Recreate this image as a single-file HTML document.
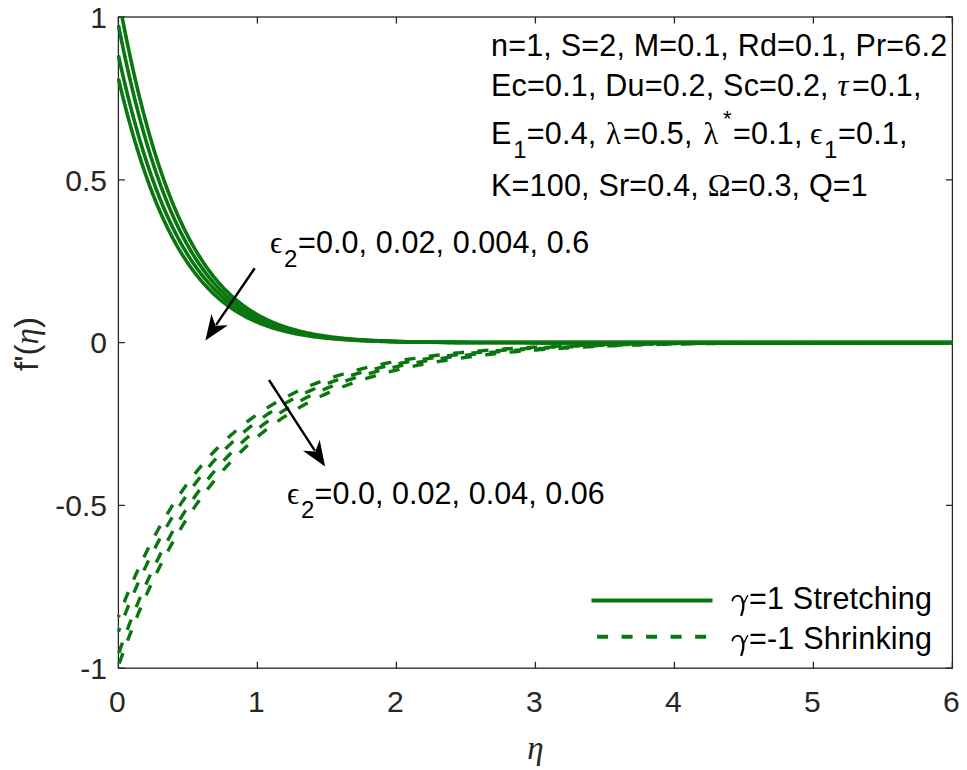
<!DOCTYPE html>
<html><head><meta charset="utf-8"><style>
html,body{margin:0;padding:0;background:#fff;overflow:hidden;width:967px;height:770px;}
svg{display:block;}
text{font-family:"Liberation Sans",sans-serif;}
.gi{font-family:"Liberation Serif",serif;font-style:italic;}
.gu{font-family:"Liberation Serif",serif;}
</style></head><body>
<svg width="967" height="770" viewBox="0 0 967 770">
<rect width="967" height="770" fill="#fff"/>
<defs><clipPath id="ax"><rect x="116.90" y="16.50" width="837.00" height="653.20"/></clipPath></defs>
<g stroke="#262626" stroke-width="1.3" fill="none">
<rect x="118.40" y="17.00" width="834.00" height="651.20"/>
<path d="M118.40,668.20V661.70M118.40,17.00V23.50M257.40,668.20V661.70M257.40,17.00V23.50M396.40,668.20V661.70M396.40,17.00V23.50M535.40,668.20V661.70M535.40,17.00V23.50M674.40,668.20V661.70M674.40,17.00V23.50M813.40,668.20V661.70M813.40,17.00V23.50M952.40,668.20V661.70M952.40,17.00V23.50M118.40,668.20H124.90M952.40,668.20H945.90M118.40,505.40H124.90M952.40,505.40H945.90M118.40,342.60H124.90M952.40,342.60H945.90M118.40,179.80H124.90M952.40,179.80H945.90M118.40,17.00H124.90M952.40,17.00H945.90"/>
</g>
<g clip-path="url(#ax)" fill="none" stroke="#0a760f" stroke-width="3.4">
<g stroke-width="3.6">
<path d="M118.40,-2.54 L118.42,-2.42 L118.47,-2.16 L118.54,-1.78 L118.63,-1.30 L118.73,-0.73 L118.85,-0.08 L118.99,0.66 L119.14,1.47 L119.30,2.35 L119.48,3.30 L119.67,4.32 L119.87,5.40 L120.09,6.54 L120.31,7.75 L120.55,9.01 L120.80,10.32 L121.06,11.69 L121.33,13.12 L121.61,14.59 L121.90,16.11 L122.21,17.68 L122.52,19.30 L122.84,20.96 L123.18,22.67 L123.52,24.42 L123.87,26.21 L124.24,28.04 L124.61,29.90 L124.99,31.81 L125.38,33.75 L125.78,35.72 L126.19,37.73 L126.61,39.77 L127.04,41.85 L127.47,43.95 L127.92,46.08 L128.37,48.24 L128.84,50.43 L129.31,52.65 L129.79,54.88 L130.28,57.15 L130.77,59.43 L131.28,61.74 L131.79,64.07 L132.31,66.42 L132.84,68.79 L133.38,71.18 L133.92,73.58 L134.48,76.00 L135.04,78.43 L135.61,80.88 L136.19,83.35 L136.77,85.82 L137.37,88.31 L137.97,90.81 L138.58,93.32 L139.19,95.83 L139.82,98.36 L140.45,100.89 L141.09,103.43 L141.73,105.98 L142.39,108.53 L143.05,111.09 L143.72,113.65 L144.39,116.21 L145.08,118.77 L145.77,121.34 L146.47,123.90 L147.17,126.47 L147.88,129.03 L148.60,131.60 L149.33,134.16 L150.06,136.72 L150.80,139.27 L151.55,141.82 L152.31,144.37 L153.07,146.91 L153.84,149.44 L154.61,151.97 L155.40,154.49 L156.19,157.00 L156.98,159.51 L157.79,162.00 L158.60,164.49 L159.41,166.96 L160.24,169.43 L161.07,171.88 L161.90,174.33 L162.75,176.76 L163.60,179.18 L164.46,181.58 L165.32,183.97 L166.19,186.35 L167.07,188.72 L167.95,191.07 L168.84,193.40 L169.74,195.72 L170.64,198.02 L171.55,200.31 L172.47,202.58 L173.39,204.84 L174.32,207.07 L175.25,209.29 L176.19,211.50 L177.14,213.68 L178.09,215.85 L179.06,217.99 L180.02,220.12 L181.00,222.23 L181.97,224.32 L182.96,226.39 L183.95,228.44 L184.95,230.47 L185.95,232.48 L186.97,234.47 L187.98,236.44 L189.00,238.39 L190.03,240.32 L191.07,242.22 L192.11,244.11 L193.16,245.97 L194.21,247.82 L195.27,249.64 L196.34,251.44 L197.41,253.22 L198.48,254.97 L199.57,256.71 L200.66,258.42 L201.75,260.11 L202.85,261.79 L203.96,263.43 L205.07,265.06 L206.19,266.66 L207.32,268.25 L208.45,269.81 L209.59,271.35 L210.73,272.86 L211.88,274.36 L213.03,275.83 L214.19,277.28 L215.36,278.71 L216.53,280.12 L217.71,281.51 L218.89,282.87 L220.08,284.22 L221.28,285.54 L222.48,286.84 L223.68,288.12 L224.90,289.38 L226.11,290.62 L227.34,291.84 L228.57,293.04 L229.80,294.21 L231.04,295.37 L232.29,296.51 L233.54,297.62 L234.80,298.72 L236.06,299.80 L237.33,300.85 L238.60,301.89 L239.88,302.91 L241.17,303.91 L242.46,304.89 L243.76,305.85 L245.06,306.79 L246.37,307.72 L247.68,308.63 L249.00,309.51 L250.32,310.39 L251.65,311.24 L252.99,312.07 L254.33,312.89 L255.68,313.69 L257.03,314.48 L258.39,315.25 L259.75,316.00 L261.12,316.73 L262.49,317.45 L263.87,318.16 L265.25,318.85 L266.64,319.52 L268.04,320.18 L269.44,320.82 L270.84,321.45 L272.25,322.06 L273.67,322.66 L275.09,323.25 L276.52,323.82 L277.95,324.38 L279.39,324.92 L280.83,325.45 L282.28,325.97 L283.73,326.48 L285.19,326.97 L286.66,327.45 L288.13,327.92 L289.60,328.38 L291.08,328.82 L292.57,329.25 L294.06,329.68 L295.55,330.09 L297.05,330.49 L298.56,330.88 L300.07,331.26 L301.59,331.63 L303.11,331.99 L304.64,332.34 L306.17,332.68 L307.71,333.01 L309.25,333.33 L310.80,333.64 L312.35,333.94 L313.91,334.24 L315.47,334.53 L317.04,334.80 L318.61,335.07 L320.19,335.34 L321.77,335.59 L323.36,335.84 L324.95,336.08 L326.55,336.31 L328.16,336.53 L329.77,336.75 L331.38,336.96 L333.00,337.17 L334.62,337.37 L336.25,337.56 L337.89,337.74 L339.52,337.92 L341.17,338.10 L342.82,338.27 L344.47,338.43 L346.13,338.59 L347.80,338.74 L349.46,338.89 L351.14,339.03 L352.82,339.17 L354.50,339.31 L356.19,339.43 L357.88,339.56 L359.58,339.68 L361.29,339.80 L363.00,339.91 L364.71,340.02 L366.43,340.12 L368.15,340.22 L369.88,340.32 L371.61,340.41 L373.35,340.50 L375.09,340.59 L376.84,340.67 L378.59,340.75 L380.35,340.83 L382.11,340.90 L383.88,340.98 L385.65,341.05 L387.43,341.11 L389.21,341.18 L391.00,341.24 L392.79,341.30 L394.59,341.35 L396.39,341.41 L398.20,341.46 L400.01,341.51 L401.82,341.56 L403.64,341.61 L405.47,341.65 L407.30,341.70 L409.13,341.74 L410.97,341.78 L412.82,341.81 L414.67,341.85 L416.52,341.89 L418.38,341.92 L420.24,341.95 L422.11,341.98 L423.99,342.01 L425.86,342.04 L427.75,342.07 L429.63,342.09 L431.53,342.12 L433.42,342.14 L435.32,342.16 L437.23,342.18 L439.14,342.20 L441.06,342.22 L442.98,342.24 L444.90,342.26 L446.83,342.28 L448.76,342.29 L450.70,342.31 L452.65,342.32 L454.60,342.34 L456.55,342.35 L458.51,342.36 L460.47,342.38 L462.44,342.39 L464.41,342.40 L466.38,342.41 L468.36,342.42 L470.35,342.43 L472.34,342.44 L474.33,342.45 L476.33,342.45 L478.34,342.46 L480.35,342.47 L482.36,342.48 L484.38,342.48 L486.40,342.49 L488.43,342.50 L490.46,342.50 L492.49,342.51 L494.53,342.51 L496.58,342.52 L498.63,342.52 L500.68,342.53 L502.74,342.53 L504.81,342.53 L506.87,342.54 L508.95,342.54 L511.02,342.55 L513.10,342.55 L515.19,342.55 L517.28,342.55 L519.38,342.56 L521.48,342.56 L523.58,342.56 L525.69,342.56 L527.80,342.57 L529.92,342.57 L532.04,342.57 L534.17,342.57 L536.30,342.57 L538.44,342.58 L540.58,342.58 L542.72,342.58 L544.87,342.58 L547.02,342.58 L549.18,342.58 L551.34,342.58 L553.51,342.58 L555.68,342.59 L557.86,342.59 L560.04,342.59 L562.22,342.59 L564.41,342.59 L566.61,342.59 L568.80,342.59 L571.01,342.59 L573.21,342.59 L575.42,342.59 L577.64,342.59 L579.86,342.59 L582.08,342.59 L584.31,342.59 L586.55,342.59 L588.78,342.59 L591.03,342.60 L593.27,342.60 L595.52,342.60 L597.78,342.60 L600.04,342.60 L602.30,342.60 L604.57,342.60 L606.84,342.60 L609.12,342.60 L611.40,342.60 L613.69,342.60 L615.98,342.60 L618.27,342.60 L620.57,342.60 L622.88,342.60 L625.18,342.60 L627.49,342.60 L629.81,342.60 L632.13,342.60 L634.46,342.60 L636.79,342.60 L639.12,342.60 L641.46,342.60 L643.80,342.60 L646.15,342.60 L648.50,342.60 L650.85,342.60 L653.21,342.60 L655.57,342.60 L657.94,342.60 L660.31,342.60 L662.69,342.60 L665.07,342.60 L667.46,342.60 L669.85,342.60 L672.24,342.60 L674.64,342.60 L677.04,342.60 L679.45,342.60 L681.86,342.60 L684.27,342.60 L686.69,342.60 L689.11,342.60 L691.54,342.60 L693.97,342.60 L696.41,342.60 L698.85,342.60 L701.30,342.60 L703.74,342.60 L706.20,342.60 L708.65,342.60 L711.12,342.60 L713.58,342.60 L716.05,342.60 L718.53,342.60 L721.00,342.60 L723.49,342.60 L725.97,342.60 L728.46,342.60 L730.96,342.60 L733.46,342.60 L735.96,342.60 L738.47,342.60 L740.98,342.60 L743.50,342.60 L746.02,342.60 L748.54,342.60 L751.07,342.60 L753.60,342.60 L756.14,342.60 L758.68,342.60 L761.23,342.60 L763.78,342.60 L766.33,342.60 L768.89,342.60 L771.45,342.60 L774.02,342.60 L776.59,342.60 L779.16,342.60 L781.74,342.60 L784.32,342.60 L786.91,342.60 L789.50,342.60 L792.09,342.60 L794.69,342.60 L797.30,342.60 L799.90,342.60 L802.51,342.60 L805.13,342.60 L807.75,342.60 L810.37,342.60 L813.00,342.60 L815.63,342.60 L818.27,342.60 L820.91,342.60 L823.55,342.60 L826.20,342.60 L828.85,342.60 L831.51,342.60 L834.17,342.60 L836.84,342.60 L839.51,342.60 L842.18,342.60 L844.85,342.60 L847.54,342.60 L850.22,342.60 L852.91,342.60 L855.60,342.60 L858.30,342.60 L861.00,342.60 L863.71,342.60 L866.42,342.60 L869.13,342.60 L871.85,342.60 L874.57,342.60 L877.29,342.60 L880.02,342.60 L882.76,342.60 L885.49,342.60 L888.24,342.60 L890.98,342.60 L893.73,342.60 L896.49,342.60 L899.24,342.60 L902.00,342.60 L904.77,342.60 L907.54,342.60 L910.31,342.60 L913.09,342.60 L915.87,342.60 L918.66,342.60 L921.45,342.60 L924.24,342.60 L927.04,342.60 L929.84,342.60 L932.65,342.60 L935.46,342.60 L938.27,342.60 L941.09,342.60 L943.91,342.60 L946.74,342.60 L949.57,342.60 L952.40,342.60"/>
<path d="M118.40,25.14 L118.42,25.25 L118.47,25.49 L118.54,25.84 L118.63,26.29 L118.73,26.82 L118.85,27.42 L118.99,28.10 L119.14,28.86 L119.30,29.67 L119.48,30.56 L119.67,31.50 L119.87,32.50 L120.09,33.57 L120.31,34.68 L120.55,35.85 L120.80,37.07 L121.06,38.34 L121.33,39.67 L121.61,41.03 L121.90,42.45 L122.21,43.90 L122.52,45.40 L122.84,46.94 L123.18,48.53 L123.52,50.15 L123.87,51.81 L124.24,53.50 L124.61,55.23 L124.99,57.00 L125.38,58.80 L125.78,60.63 L126.19,62.49 L126.61,64.39 L127.04,66.31 L127.47,68.26 L127.92,70.23 L128.37,72.24 L128.84,74.26 L129.31,76.32 L129.79,78.39 L130.28,80.49 L130.77,82.60 L131.28,84.74 L131.79,86.90 L132.31,89.08 L132.84,91.27 L133.38,93.48 L133.92,95.70 L134.48,97.94 L135.04,100.20 L135.61,102.47 L136.19,104.75 L136.77,107.04 L137.37,109.34 L137.97,111.65 L138.58,113.97 L139.19,116.30 L139.82,118.64 L140.45,120.98 L141.09,123.33 L141.73,125.68 L142.39,128.04 L143.05,130.41 L143.72,132.77 L144.39,135.14 L145.08,137.51 L145.77,139.88 L146.47,142.25 L147.17,144.62 L147.88,146.99 L148.60,149.36 L149.33,151.72 L150.06,154.09 L150.80,156.45 L151.55,158.80 L152.31,161.15 L153.07,163.50 L153.84,165.83 L154.61,168.17 L155.40,170.49 L156.19,172.81 L156.98,175.12 L157.79,177.42 L158.60,179.72 L159.41,182.00 L160.24,184.27 L161.07,186.53 L161.90,188.79 L162.75,191.03 L163.60,193.26 L164.46,195.47 L165.32,197.68 L166.19,199.87 L167.07,202.04 L167.95,204.21 L168.84,206.36 L169.74,208.49 L170.64,210.61 L171.55,212.72 L172.47,214.81 L173.39,216.88 L174.32,218.94 L175.25,220.98 L176.19,223.01 L177.14,225.02 L178.09,227.01 L179.06,228.98 L180.02,230.94 L181.00,232.87 L181.97,234.79 L182.96,236.70 L183.95,238.58 L184.95,240.44 L185.95,242.29 L186.97,244.12 L187.98,245.92 L189.00,247.71 L190.03,249.48 L191.07,251.23 L192.11,252.96 L193.16,254.67 L194.21,256.36 L195.27,258.03 L196.34,259.68 L197.41,261.31 L198.48,262.92 L199.57,264.51 L200.66,266.08 L201.75,267.63 L202.85,269.16 L203.96,270.67 L205.07,272.16 L206.19,273.63 L207.32,275.08 L208.45,276.51 L209.59,277.91 L210.73,279.30 L211.88,280.67 L213.03,282.02 L214.19,283.34 L215.36,284.65 L216.53,285.94 L217.71,287.20 L218.89,288.45 L220.08,289.68 L221.28,290.89 L222.48,292.08 L223.68,293.25 L224.90,294.39 L226.11,295.53 L227.34,296.64 L228.57,297.73 L229.80,298.80 L231.04,299.86 L232.29,300.89 L233.54,301.91 L234.80,302.91 L236.06,303.89 L237.33,304.85 L238.60,305.80 L239.88,306.73 L241.17,307.64 L242.46,308.53 L243.76,309.40 L245.06,310.26 L246.37,311.10 L247.68,311.93 L249.00,312.73 L250.32,313.53 L251.65,314.30 L252.99,315.06 L254.33,315.80 L255.68,316.53 L257.03,317.24 L258.39,317.94 L259.75,318.62 L261.12,319.29 L262.49,319.94 L263.87,320.58 L265.25,321.21 L266.64,321.82 L268.04,322.41 L269.44,323.00 L270.84,323.57 L272.25,324.12 L273.67,324.66 L275.09,325.19 L276.52,325.71 L277.95,326.22 L279.39,326.71 L280.83,327.19 L282.28,327.66 L283.73,328.12 L285.19,328.56 L286.66,329.00 L288.13,329.42 L289.60,329.83 L291.08,330.24 L292.57,330.63 L294.06,331.01 L295.55,331.38 L297.05,331.74 L298.56,332.09 L300.07,332.44 L301.59,332.77 L303.11,333.09 L304.64,333.41 L306.17,333.72 L307.71,334.01 L309.25,334.30 L310.80,334.58 L312.35,334.86 L313.91,335.12 L315.47,335.38 L317.04,335.63 L318.61,335.87 L320.19,336.11 L321.77,336.34 L323.36,336.56 L324.95,336.77 L326.55,336.98 L328.16,337.19 L329.77,337.38 L331.38,337.57 L333.00,337.76 L334.62,337.93 L336.25,338.11 L337.89,338.27 L339.52,338.43 L341.17,338.59 L342.82,338.74 L344.47,338.89 L346.13,339.03 L347.80,339.17 L349.46,339.30 L351.14,339.43 L352.82,339.55 L354.50,339.67 L356.19,339.79 L357.88,339.90 L359.58,340.00 L361.29,340.11 L363.00,340.21 L364.71,340.31 L366.43,340.40 L368.15,340.49 L369.88,340.58 L371.61,340.66 L373.35,340.74 L375.09,340.82 L376.84,340.89 L378.59,340.96 L380.35,341.03 L382.11,341.10 L383.88,341.16 L385.65,341.22 L387.43,341.28 L389.21,341.34 L391.00,341.40 L392.79,341.45 L394.59,341.50 L396.39,341.55 L398.20,341.59 L400.01,341.64 L401.82,341.68 L403.64,341.72 L405.47,341.76 L407.30,341.80 L409.13,341.84 L410.97,341.87 L412.82,341.91 L414.67,341.94 L416.52,341.97 L418.38,342.00 L420.24,342.03 L422.11,342.06 L423.99,342.08 L425.86,342.11 L427.75,342.13 L429.63,342.15 L431.53,342.17 L433.42,342.19 L435.32,342.21 L437.23,342.23 L439.14,342.25 L441.06,342.27 L442.98,342.29 L444.90,342.30 L446.83,342.32 L448.76,342.33 L450.70,342.34 L452.65,342.36 L454.60,342.37 L456.55,342.38 L458.51,342.39 L460.47,342.40 L462.44,342.41 L464.41,342.42 L466.38,342.43 L468.36,342.44 L470.35,342.45 L472.34,342.46 L474.33,342.47 L476.33,342.47 L478.34,342.48 L480.35,342.49 L482.36,342.49 L484.38,342.50 L486.40,342.50 L488.43,342.51 L490.46,342.51 L492.49,342.52 L494.53,342.52 L496.58,342.53 L498.63,342.53 L500.68,342.54 L502.74,342.54 L504.81,342.54 L506.87,342.55 L508.95,342.55 L511.02,342.55 L513.10,342.56 L515.19,342.56 L517.28,342.56 L519.38,342.56 L521.48,342.57 L523.58,342.57 L525.69,342.57 L527.80,342.57 L529.92,342.57 L532.04,342.57 L534.17,342.58 L536.30,342.58 L538.44,342.58 L540.58,342.58 L542.72,342.58 L544.87,342.58 L547.02,342.58 L549.18,342.58 L551.34,342.59 L553.51,342.59 L555.68,342.59 L557.86,342.59 L560.04,342.59 L562.22,342.59 L564.41,342.59 L566.61,342.59 L568.80,342.59 L571.01,342.59 L573.21,342.59 L575.42,342.59 L577.64,342.59 L579.86,342.59 L582.08,342.59 L584.31,342.59 L586.55,342.60 L588.78,342.60 L591.03,342.60 L593.27,342.60 L595.52,342.60 L597.78,342.60 L600.04,342.60 L602.30,342.60 L604.57,342.60 L606.84,342.60 L609.12,342.60 L611.40,342.60 L613.69,342.60 L615.98,342.60 L618.27,342.60 L620.57,342.60 L622.88,342.60 L625.18,342.60 L627.49,342.60 L629.81,342.60 L632.13,342.60 L634.46,342.60 L636.79,342.60 L639.12,342.60 L641.46,342.60 L643.80,342.60 L646.15,342.60 L648.50,342.60 L650.85,342.60 L653.21,342.60 L655.57,342.60 L657.94,342.60 L660.31,342.60 L662.69,342.60 L665.07,342.60 L667.46,342.60 L669.85,342.60 L672.24,342.60 L674.64,342.60 L677.04,342.60 L679.45,342.60 L681.86,342.60 L684.27,342.60 L686.69,342.60 L689.11,342.60 L691.54,342.60 L693.97,342.60 L696.41,342.60 L698.85,342.60 L701.30,342.60 L703.74,342.60 L706.20,342.60 L708.65,342.60 L711.12,342.60 L713.58,342.60 L716.05,342.60 L718.53,342.60 L721.00,342.60 L723.49,342.60 L725.97,342.60 L728.46,342.60 L730.96,342.60 L733.46,342.60 L735.96,342.60 L738.47,342.60 L740.98,342.60 L743.50,342.60 L746.02,342.60 L748.54,342.60 L751.07,342.60 L753.60,342.60 L756.14,342.60 L758.68,342.60 L761.23,342.60 L763.78,342.60 L766.33,342.60 L768.89,342.60 L771.45,342.60 L774.02,342.60 L776.59,342.60 L779.16,342.60 L781.74,342.60 L784.32,342.60 L786.91,342.60 L789.50,342.60 L792.09,342.60 L794.69,342.60 L797.30,342.60 L799.90,342.60 L802.51,342.60 L805.13,342.60 L807.75,342.60 L810.37,342.60 L813.00,342.60 L815.63,342.60 L818.27,342.60 L820.91,342.60 L823.55,342.60 L826.20,342.60 L828.85,342.60 L831.51,342.60 L834.17,342.60 L836.84,342.60 L839.51,342.60 L842.18,342.60 L844.85,342.60 L847.54,342.60 L850.22,342.60 L852.91,342.60 L855.60,342.60 L858.30,342.60 L861.00,342.60 L863.71,342.60 L866.42,342.60 L869.13,342.60 L871.85,342.60 L874.57,342.60 L877.29,342.60 L880.02,342.60 L882.76,342.60 L885.49,342.60 L888.24,342.60 L890.98,342.60 L893.73,342.60 L896.49,342.60 L899.24,342.60 L902.00,342.60 L904.77,342.60 L907.54,342.60 L910.31,342.60 L913.09,342.60 L915.87,342.60 L918.66,342.60 L921.45,342.60 L924.24,342.60 L927.04,342.60 L929.84,342.60 L932.65,342.60 L935.46,342.60 L938.27,342.60 L941.09,342.60 L943.91,342.60 L946.74,342.60 L949.57,342.60 L952.40,342.60"/>
<path d="M118.40,55.42 L118.42,55.52 L118.47,55.74 L118.54,56.06 L118.63,56.46 L118.73,56.94 L118.85,57.49 L118.99,58.10 L119.14,58.78 L119.30,59.52 L119.48,60.32 L119.67,61.17 L119.87,62.08 L120.09,63.04 L120.31,64.05 L120.55,65.11 L120.80,66.22 L121.06,67.37 L121.33,68.56 L121.61,69.80 L121.90,71.08 L122.21,72.39 L122.52,73.75 L122.84,75.15 L123.18,76.58 L123.52,78.04 L123.87,79.54 L124.24,81.08 L124.61,82.64 L124.99,84.24 L125.38,85.87 L125.78,87.53 L126.19,89.21 L126.61,90.92 L127.04,92.66 L127.47,94.42 L127.92,96.21 L128.37,98.02 L128.84,99.86 L129.31,101.71 L129.79,103.59 L130.28,105.49 L130.77,107.40 L131.28,109.34 L131.79,111.29 L132.31,113.26 L132.84,115.24 L133.38,117.24 L133.92,119.25 L134.48,121.28 L135.04,123.32 L135.61,125.37 L136.19,127.43 L136.77,129.51 L137.37,131.59 L137.97,133.68 L138.58,135.78 L139.19,137.89 L139.82,140.00 L140.45,142.12 L141.09,144.24 L141.73,146.37 L142.39,148.51 L143.05,150.65 L143.72,152.79 L144.39,154.93 L145.08,157.07 L145.77,159.22 L146.47,161.36 L147.17,163.50 L147.88,165.65 L148.60,167.79 L149.33,169.93 L150.06,172.07 L150.80,174.20 L151.55,176.33 L152.31,178.46 L153.07,180.58 L153.84,182.69 L154.61,184.80 L155.40,186.91 L156.19,189.01 L156.98,191.10 L157.79,193.18 L158.60,195.25 L159.41,197.32 L160.24,199.37 L161.07,201.42 L161.90,203.46 L162.75,205.48 L163.60,207.50 L164.46,209.51 L165.32,211.50 L166.19,213.48 L167.07,215.45 L167.95,217.41 L168.84,219.35 L169.74,221.28 L170.64,223.20 L171.55,225.11 L172.47,227.00 L173.39,228.87 L174.32,230.74 L175.25,232.58 L176.19,234.41 L177.14,236.23 L178.09,238.03 L179.06,239.82 L180.02,241.59 L181.00,243.34 L181.97,245.08 L182.96,246.80 L183.95,248.50 L184.95,250.19 L185.95,251.86 L186.97,253.51 L187.98,255.15 L189.00,256.76 L190.03,258.36 L191.07,259.95 L192.11,261.51 L193.16,263.06 L194.21,264.59 L195.27,266.10 L196.34,267.59 L197.41,269.07 L198.48,270.52 L199.57,271.96 L200.66,273.38 L201.75,274.78 L202.85,276.17 L203.96,277.53 L205.07,278.88 L206.19,280.21 L207.32,281.52 L208.45,282.81 L209.59,284.08 L210.73,285.34 L211.88,286.58 L213.03,287.79 L214.19,289.00 L215.36,290.18 L216.53,291.34 L217.71,292.49 L218.89,293.62 L220.08,294.73 L221.28,295.82 L222.48,296.90 L223.68,297.95 L224.90,298.99 L226.11,300.02 L227.34,301.02 L228.57,302.01 L229.80,302.98 L231.04,303.93 L232.29,304.87 L233.54,305.79 L234.80,306.70 L236.06,307.58 L237.33,308.45 L238.60,309.31 L239.88,310.15 L241.17,310.97 L242.46,311.78 L243.76,312.57 L245.06,313.35 L246.37,314.11 L247.68,314.85 L249.00,315.58 L250.32,316.30 L251.65,317.00 L252.99,317.69 L254.33,318.36 L255.68,319.02 L257.03,319.66 L258.39,320.29 L259.75,320.91 L261.12,321.52 L262.49,322.11 L263.87,322.68 L265.25,323.25 L266.64,323.80 L268.04,324.34 L269.44,324.87 L270.84,325.38 L272.25,325.88 L273.67,326.38 L275.09,326.85 L276.52,327.32 L277.95,327.78 L279.39,328.23 L280.83,328.66 L282.28,329.08 L283.73,329.50 L285.19,329.90 L286.66,330.30 L288.13,330.68 L289.60,331.05 L291.08,331.42 L292.57,331.77 L294.06,332.12 L295.55,332.45 L297.05,332.78 L298.56,333.10 L300.07,333.41 L301.59,333.71 L303.11,334.00 L304.64,334.29 L306.17,334.56 L307.71,334.83 L309.25,335.09 L310.80,335.35 L312.35,335.60 L313.91,335.84 L315.47,336.07 L317.04,336.30 L318.61,336.52 L320.19,336.73 L321.77,336.94 L323.36,337.14 L324.95,337.33 L326.55,337.52 L328.16,337.70 L329.77,337.88 L331.38,338.05 L333.00,338.22 L334.62,338.38 L336.25,338.53 L337.89,338.69 L339.52,338.83 L341.17,338.97 L342.82,339.11 L344.47,339.24 L346.13,339.37 L347.80,339.49 L349.46,339.61 L351.14,339.73 L352.82,339.84 L354.50,339.95 L356.19,340.05 L357.88,340.16 L359.58,340.25 L361.29,340.35 L363.00,340.44 L364.71,340.52 L366.43,340.61 L368.15,340.69 L369.88,340.77 L371.61,340.84 L373.35,340.92 L375.09,340.99 L376.84,341.05 L378.59,341.12 L380.35,341.18 L382.11,341.24 L383.88,341.30 L385.65,341.36 L387.43,341.41 L389.21,341.46 L391.00,341.51 L392.79,341.56 L394.59,341.60 L396.39,341.65 L398.20,341.69 L400.01,341.73 L401.82,341.77 L403.64,341.81 L405.47,341.84 L407.30,341.88 L409.13,341.91 L410.97,341.94 L412.82,341.97 L414.67,342.00 L416.52,342.03 L418.38,342.06 L420.24,342.08 L422.11,342.11 L423.99,342.13 L425.86,342.15 L427.75,342.17 L429.63,342.19 L431.53,342.21 L433.42,342.23 L435.32,342.25 L437.23,342.27 L439.14,342.28 L441.06,342.30 L442.98,342.32 L444.90,342.33 L446.83,342.34 L448.76,342.36 L450.70,342.37 L452.65,342.38 L454.60,342.39 L456.55,342.40 L458.51,342.41 L460.47,342.42 L462.44,342.43 L464.41,342.44 L466.38,342.45 L468.36,342.46 L470.35,342.46 L472.34,342.47 L474.33,342.48 L476.33,342.49 L478.34,342.49 L480.35,342.50 L482.36,342.50 L484.38,342.51 L486.40,342.51 L488.43,342.52 L490.46,342.52 L492.49,342.53 L494.53,342.53 L496.58,342.54 L498.63,342.54 L500.68,342.54 L502.74,342.55 L504.81,342.55 L506.87,342.55 L508.95,342.55 L511.02,342.56 L513.10,342.56 L515.19,342.56 L517.28,342.56 L519.38,342.57 L521.48,342.57 L523.58,342.57 L525.69,342.57 L527.80,342.57 L529.92,342.58 L532.04,342.58 L534.17,342.58 L536.30,342.58 L538.44,342.58 L540.58,342.58 L542.72,342.58 L544.87,342.58 L547.02,342.59 L549.18,342.59 L551.34,342.59 L553.51,342.59 L555.68,342.59 L557.86,342.59 L560.04,342.59 L562.22,342.59 L564.41,342.59 L566.61,342.59 L568.80,342.59 L571.01,342.59 L573.21,342.59 L575.42,342.59 L577.64,342.59 L579.86,342.59 L582.08,342.59 L584.31,342.60 L586.55,342.60 L588.78,342.60 L591.03,342.60 L593.27,342.60 L595.52,342.60 L597.78,342.60 L600.04,342.60 L602.30,342.60 L604.57,342.60 L606.84,342.60 L609.12,342.60 L611.40,342.60 L613.69,342.60 L615.98,342.60 L618.27,342.60 L620.57,342.60 L622.88,342.60 L625.18,342.60 L627.49,342.60 L629.81,342.60 L632.13,342.60 L634.46,342.60 L636.79,342.60 L639.12,342.60 L641.46,342.60 L643.80,342.60 L646.15,342.60 L648.50,342.60 L650.85,342.60 L653.21,342.60 L655.57,342.60 L657.94,342.60 L660.31,342.60 L662.69,342.60 L665.07,342.60 L667.46,342.60 L669.85,342.60 L672.24,342.60 L674.64,342.60 L677.04,342.60 L679.45,342.60 L681.86,342.60 L684.27,342.60 L686.69,342.60 L689.11,342.60 L691.54,342.60 L693.97,342.60 L696.41,342.60 L698.85,342.60 L701.30,342.60 L703.74,342.60 L706.20,342.60 L708.65,342.60 L711.12,342.60 L713.58,342.60 L716.05,342.60 L718.53,342.60 L721.00,342.60 L723.49,342.60 L725.97,342.60 L728.46,342.60 L730.96,342.60 L733.46,342.60 L735.96,342.60 L738.47,342.60 L740.98,342.60 L743.50,342.60 L746.02,342.60 L748.54,342.60 L751.07,342.60 L753.60,342.60 L756.14,342.60 L758.68,342.60 L761.23,342.60 L763.78,342.60 L766.33,342.60 L768.89,342.60 L771.45,342.60 L774.02,342.60 L776.59,342.60 L779.16,342.60 L781.74,342.60 L784.32,342.60 L786.91,342.60 L789.50,342.60 L792.09,342.60 L794.69,342.60 L797.30,342.60 L799.90,342.60 L802.51,342.60 L805.13,342.60 L807.75,342.60 L810.37,342.60 L813.00,342.60 L815.63,342.60 L818.27,342.60 L820.91,342.60 L823.55,342.60 L826.20,342.60 L828.85,342.60 L831.51,342.60 L834.17,342.60 L836.84,342.60 L839.51,342.60 L842.18,342.60 L844.85,342.60 L847.54,342.60 L850.22,342.60 L852.91,342.60 L855.60,342.60 L858.30,342.60 L861.00,342.60 L863.71,342.60 L866.42,342.60 L869.13,342.60 L871.85,342.60 L874.57,342.60 L877.29,342.60 L880.02,342.60 L882.76,342.60 L885.49,342.60 L888.24,342.60 L890.98,342.60 L893.73,342.60 L896.49,342.60 L899.24,342.60 L902.00,342.60 L904.77,342.60 L907.54,342.60 L910.31,342.60 L913.09,342.60 L915.87,342.60 L918.66,342.60 L921.45,342.60 L924.24,342.60 L927.04,342.60 L929.84,342.60 L932.65,342.60 L935.46,342.60 L938.27,342.60 L941.09,342.60 L943.91,342.60 L946.74,342.60 L949.57,342.60 L952.40,342.60"/>
<path d="M118.40,78.54 L118.42,78.63 L118.47,78.84 L118.54,79.13 L118.63,79.51 L118.73,79.95 L118.85,80.46 L118.99,81.04 L119.14,81.67 L119.30,82.36 L119.48,83.10 L119.67,83.90 L119.87,84.75 L120.09,85.64 L120.31,86.58 L120.55,87.57 L120.80,88.60 L121.06,89.67 L121.33,90.78 L121.61,91.93 L121.90,93.12 L122.21,94.35 L122.52,95.61 L122.84,96.91 L123.18,98.24 L123.52,99.61 L123.87,101.01 L124.24,102.43 L124.61,103.89 L124.99,105.38 L125.38,106.89 L125.78,108.43 L126.19,110.00 L126.61,111.59 L127.04,113.21 L127.47,114.85 L127.92,116.51 L128.37,118.20 L128.84,119.90 L129.31,121.63 L129.79,123.37 L130.28,125.13 L130.77,126.91 L131.28,128.71 L131.79,130.52 L132.31,132.35 L132.84,134.19 L133.38,136.05 L133.92,137.92 L134.48,139.80 L135.04,141.69 L135.61,143.60 L136.19,145.51 L136.77,147.44 L137.37,149.37 L137.97,151.31 L138.58,153.25 L139.19,155.21 L139.82,157.17 L140.45,159.13 L141.09,161.10 L141.73,163.08 L142.39,165.05 L143.05,167.03 L143.72,169.02 L144.39,171.00 L145.08,172.99 L145.77,174.97 L146.47,176.96 L147.17,178.94 L147.88,180.92 L148.60,182.91 L149.33,184.89 L150.06,186.86 L150.80,188.84 L151.55,190.81 L152.31,192.77 L153.07,194.73 L153.84,196.69 L154.61,198.64 L155.40,200.58 L156.19,202.52 L156.98,204.45 L157.79,206.37 L158.60,208.28 L159.41,210.19 L160.24,212.09 L161.07,213.98 L161.90,215.85 L162.75,217.72 L163.60,219.58 L164.46,221.43 L165.32,223.27 L166.19,225.09 L167.07,226.91 L167.95,228.71 L168.84,230.50 L169.74,232.28 L170.64,234.05 L171.55,235.80 L172.47,237.54 L173.39,239.26 L174.32,240.97 L175.25,242.67 L176.19,244.36 L177.14,246.03 L178.09,247.68 L179.06,249.32 L180.02,250.95 L181.00,252.56 L181.97,254.15 L182.96,255.73 L183.95,257.29 L184.95,258.84 L185.95,260.37 L186.97,261.89 L187.98,263.38 L189.00,264.87 L190.03,266.33 L191.07,267.78 L192.11,269.22 L193.16,270.63 L194.21,272.03 L195.27,273.41 L196.34,274.78 L197.41,276.13 L198.48,277.46 L199.57,278.78 L200.66,280.07 L201.75,281.36 L202.85,282.62 L203.96,283.87 L205.07,285.10 L206.19,286.31 L207.32,287.50 L208.45,288.68 L209.59,289.84 L210.73,290.99 L211.88,292.11 L213.03,293.23 L214.19,294.32 L215.36,295.40 L216.53,296.46 L217.71,297.50 L218.89,298.53 L220.08,299.54 L221.28,300.53 L222.48,301.51 L223.68,302.47 L224.90,303.41 L226.11,304.34 L227.34,305.26 L228.57,306.15 L229.80,307.03 L231.04,307.90 L232.29,308.75 L233.54,309.58 L234.80,310.40 L236.06,311.21 L237.33,312.00 L238.60,312.77 L239.88,313.53 L241.17,314.28 L242.46,315.01 L243.76,315.72 L245.06,316.43 L246.37,317.11 L247.68,317.79 L249.00,318.45 L250.32,319.09 L251.65,319.73 L252.99,320.35 L254.33,320.96 L255.68,321.55 L257.03,322.13 L258.39,322.70 L259.75,323.26 L261.12,323.80 L262.49,324.33 L263.87,324.85 L265.25,325.36 L266.64,325.86 L268.04,326.34 L269.44,326.82 L270.84,327.28 L272.25,327.73 L273.67,328.17 L275.09,328.60 L276.52,329.02 L277.95,329.43 L279.39,329.83 L280.83,330.22 L282.28,330.60 L283.73,330.98 L285.19,331.34 L286.66,331.69 L288.13,332.03 L289.60,332.37 L291.08,332.69 L292.57,333.01 L294.06,333.32 L295.55,333.62 L297.05,333.91 L298.56,334.20 L300.07,334.47 L301.59,334.74 L303.11,335.00 L304.64,335.26 L306.17,335.50 L307.71,335.74 L309.25,335.98 L310.80,336.20 L312.35,336.42 L313.91,336.64 L315.47,336.85 L317.04,337.05 L318.61,337.24 L320.19,337.43 L321.77,337.61 L323.36,337.79 L324.95,337.97 L326.55,338.13 L328.16,338.30 L329.77,338.45 L331.38,338.60 L333.00,338.75 L334.62,338.90 L336.25,339.03 L337.89,339.17 L339.52,339.30 L341.17,339.42 L342.82,339.54 L344.47,339.66 L346.13,339.77 L347.80,339.88 L349.46,339.99 L351.14,340.09 L352.82,340.19 L354.50,340.28 L356.19,340.38 L357.88,340.47 L359.58,340.55 L361.29,340.63 L363.00,340.71 L364.71,340.79 L366.43,340.86 L368.15,340.94 L369.88,341.00 L371.61,341.07 L373.35,341.13 L375.09,341.20 L376.84,341.26 L378.59,341.31 L380.35,341.37 L382.11,341.42 L383.88,341.47 L385.65,341.52 L387.43,341.57 L389.21,341.61 L391.00,341.66 L392.79,341.70 L394.59,341.74 L396.39,341.78 L398.20,341.81 L400.01,341.85 L401.82,341.88 L403.64,341.92 L405.47,341.95 L407.30,341.98 L409.13,342.01 L410.97,342.03 L412.82,342.06 L414.67,342.08 L416.52,342.11 L418.38,342.13 L420.24,342.15 L422.11,342.18 L423.99,342.20 L425.86,342.22 L427.75,342.23 L429.63,342.25 L431.53,342.27 L433.42,342.29 L435.32,342.30 L437.23,342.32 L439.14,342.33 L441.06,342.34 L442.98,342.36 L444.90,342.37 L446.83,342.38 L448.76,342.39 L450.70,342.40 L452.65,342.41 L454.60,342.42 L456.55,342.43 L458.51,342.44 L460.47,342.45 L462.44,342.46 L464.41,342.46 L466.38,342.47 L468.36,342.48 L470.35,342.48 L472.34,342.49 L474.33,342.50 L476.33,342.50 L478.34,342.51 L480.35,342.51 L482.36,342.52 L484.38,342.52 L486.40,342.53 L488.43,342.53 L490.46,342.53 L492.49,342.54 L494.53,342.54 L496.58,342.55 L498.63,342.55 L500.68,342.55 L502.74,342.55 L504.81,342.56 L506.87,342.56 L508.95,342.56 L511.02,342.56 L513.10,342.57 L515.19,342.57 L517.28,342.57 L519.38,342.57 L521.48,342.57 L523.58,342.57 L525.69,342.58 L527.80,342.58 L529.92,342.58 L532.04,342.58 L534.17,342.58 L536.30,342.58 L538.44,342.58 L540.58,342.58 L542.72,342.59 L544.87,342.59 L547.02,342.59 L549.18,342.59 L551.34,342.59 L553.51,342.59 L555.68,342.59 L557.86,342.59 L560.04,342.59 L562.22,342.59 L564.41,342.59 L566.61,342.59 L568.80,342.59 L571.01,342.59 L573.21,342.59 L575.42,342.59 L577.64,342.60 L579.86,342.60 L582.08,342.60 L584.31,342.60 L586.55,342.60 L588.78,342.60 L591.03,342.60 L593.27,342.60 L595.52,342.60 L597.78,342.60 L600.04,342.60 L602.30,342.60 L604.57,342.60 L606.84,342.60 L609.12,342.60 L611.40,342.60 L613.69,342.60 L615.98,342.60 L618.27,342.60 L620.57,342.60 L622.88,342.60 L625.18,342.60 L627.49,342.60 L629.81,342.60 L632.13,342.60 L634.46,342.60 L636.79,342.60 L639.12,342.60 L641.46,342.60 L643.80,342.60 L646.15,342.60 L648.50,342.60 L650.85,342.60 L653.21,342.60 L655.57,342.60 L657.94,342.60 L660.31,342.60 L662.69,342.60 L665.07,342.60 L667.46,342.60 L669.85,342.60 L672.24,342.60 L674.64,342.60 L677.04,342.60 L679.45,342.60 L681.86,342.60 L684.27,342.60 L686.69,342.60 L689.11,342.60 L691.54,342.60 L693.97,342.60 L696.41,342.60 L698.85,342.60 L701.30,342.60 L703.74,342.60 L706.20,342.60 L708.65,342.60 L711.12,342.60 L713.58,342.60 L716.05,342.60 L718.53,342.60 L721.00,342.60 L723.49,342.60 L725.97,342.60 L728.46,342.60 L730.96,342.60 L733.46,342.60 L735.96,342.60 L738.47,342.60 L740.98,342.60 L743.50,342.60 L746.02,342.60 L748.54,342.60 L751.07,342.60 L753.60,342.60 L756.14,342.60 L758.68,342.60 L761.23,342.60 L763.78,342.60 L766.33,342.60 L768.89,342.60 L771.45,342.60 L774.02,342.60 L776.59,342.60 L779.16,342.60 L781.74,342.60 L784.32,342.60 L786.91,342.60 L789.50,342.60 L792.09,342.60 L794.69,342.60 L797.30,342.60 L799.90,342.60 L802.51,342.60 L805.13,342.60 L807.75,342.60 L810.37,342.60 L813.00,342.60 L815.63,342.60 L818.27,342.60 L820.91,342.60 L823.55,342.60 L826.20,342.60 L828.85,342.60 L831.51,342.60 L834.17,342.60 L836.84,342.60 L839.51,342.60 L842.18,342.60 L844.85,342.60 L847.54,342.60 L850.22,342.60 L852.91,342.60 L855.60,342.60 L858.30,342.60 L861.00,342.60 L863.71,342.60 L866.42,342.60 L869.13,342.60 L871.85,342.60 L874.57,342.60 L877.29,342.60 L880.02,342.60 L882.76,342.60 L885.49,342.60 L888.24,342.60 L890.98,342.60 L893.73,342.60 L896.49,342.60 L899.24,342.60 L902.00,342.60 L904.77,342.60 L907.54,342.60 L910.31,342.60 L913.09,342.60 L915.87,342.60 L918.66,342.60 L921.45,342.60 L924.24,342.60 L927.04,342.60 L929.84,342.60 L932.65,342.60 L935.46,342.60 L938.27,342.60 L941.09,342.60 L943.91,342.60 L946.74,342.60 L949.57,342.60 L952.40,342.60"/>
</g>
<g stroke-dasharray="11 13.5">
<path stroke-dashoffset="8.6" d="M118.40,617.08 L118.42,617.02 L118.47,616.90 L118.54,616.71 L118.63,616.48 L118.73,616.20 L118.85,615.88 L118.99,615.53 L119.14,615.13 L119.30,614.70 L119.48,614.24 L119.67,613.74 L119.87,613.21 L120.09,612.65 L120.31,612.06 L120.55,611.44 L120.80,610.80 L121.06,610.12 L121.33,609.42 L121.61,608.70 L121.90,607.95 L122.21,607.17 L122.52,606.37 L122.84,605.55 L123.18,604.71 L123.52,603.84 L123.87,602.95 L124.24,602.04 L124.61,601.11 L124.99,600.16 L125.38,599.19 L125.78,598.20 L126.19,597.19 L126.61,596.16 L127.04,595.12 L127.47,594.06 L127.92,592.98 L128.37,591.88 L128.84,590.77 L129.31,589.65 L129.79,588.50 L130.28,587.35 L130.77,586.18 L131.28,584.99 L131.79,583.79 L132.31,582.58 L132.84,581.36 L133.38,580.12 L133.92,578.87 L134.48,577.61 L135.04,576.34 L135.61,575.06 L136.19,573.77 L136.77,572.47 L137.37,571.15 L137.97,569.83 L138.58,568.50 L139.19,567.16 L139.82,565.81 L140.45,564.45 L141.09,563.09 L141.73,561.72 L142.39,560.34 L143.05,558.95 L143.72,557.56 L144.39,556.16 L145.08,554.76 L145.77,553.35 L146.47,551.93 L147.17,550.51 L147.88,549.08 L148.60,547.65 L149.33,546.22 L150.06,544.78 L150.80,543.34 L151.55,541.90 L152.31,540.45 L153.07,539.00 L153.84,537.55 L154.61,536.09 L155.40,534.64 L156.19,533.18 L156.98,531.72 L157.79,530.26 L158.60,528.79 L159.41,527.33 L160.24,525.87 L161.07,524.41 L161.90,522.94 L162.75,521.48 L163.60,520.02 L164.46,518.55 L165.32,517.09 L166.19,515.63 L167.07,514.17 L167.95,512.72 L168.84,511.26 L169.74,509.81 L170.64,508.36 L171.55,506.91 L172.47,505.46 L173.39,504.02 L174.32,502.58 L175.25,501.14 L176.19,499.70 L177.14,498.27 L178.09,496.85 L179.06,495.42 L180.02,494.00 L181.00,492.59 L181.97,491.17 L182.96,489.77 L183.95,488.36 L184.95,486.97 L185.95,485.57 L186.97,484.19 L187.98,482.80 L189.00,481.43 L190.03,480.05 L191.07,478.69 L192.11,477.33 L193.16,475.97 L194.21,474.62 L195.27,473.28 L196.34,471.94 L197.41,470.61 L198.48,469.28 L199.57,467.97 L200.66,466.65 L201.75,465.35 L202.85,464.05 L203.96,462.76 L205.07,461.47 L206.19,460.20 L207.32,458.93 L208.45,457.66 L209.59,456.41 L210.73,455.16 L211.88,453.92 L213.03,452.68 L214.19,451.46 L215.36,450.24 L216.53,449.03 L217.71,447.82 L218.89,446.63 L220.08,445.44 L221.28,444.26 L222.48,443.09 L223.68,441.93 L224.90,440.77 L226.11,439.62 L227.34,438.48 L228.57,437.35 L229.80,436.23 L231.04,435.11 L232.29,434.01 L233.54,432.91 L234.80,431.82 L236.06,430.74 L237.33,429.66 L238.60,428.60 L239.88,427.54 L241.17,426.50 L242.46,425.46 L243.76,424.43 L245.06,423.40 L246.37,422.39 L247.68,421.38 L249.00,420.39 L250.32,419.40 L251.65,418.42 L252.99,417.45 L254.33,416.49 L255.68,415.53 L257.03,414.59 L258.39,413.65 L259.75,412.72 L261.12,411.80 L262.49,410.89 L263.87,409.99 L265.25,409.09 L266.64,408.21 L268.04,407.33 L269.44,406.46 L270.84,405.60 L272.25,404.74 L273.67,403.90 L275.09,403.07 L276.52,402.24 L277.95,401.42 L279.39,400.61 L280.83,399.81 L282.28,399.01 L283.73,398.22 L285.19,397.45 L286.66,396.68 L288.13,395.91 L289.60,395.16 L291.08,394.42 L292.57,393.68 L294.06,392.95 L295.55,392.23 L297.05,391.51 L298.56,390.81 L300.07,390.11 L301.59,389.42 L303.11,388.73 L304.64,388.06 L306.17,387.39 L307.71,386.73 L309.25,386.08 L310.80,385.43 L312.35,384.80 L313.91,384.17 L315.47,383.55 L317.04,382.93 L318.61,382.32 L320.19,381.72 L321.77,381.13 L323.36,380.54 L324.95,379.96 L326.55,379.39 L328.16,378.82 L329.77,378.27 L331.38,377.72 L333.00,377.17 L334.62,376.63 L336.25,376.10 L337.89,375.58 L339.52,375.06 L341.17,374.55 L342.82,374.04 L344.47,373.55 L346.13,373.05 L347.80,372.57 L349.46,372.09 L351.14,371.62 L352.82,371.15 L354.50,370.69 L356.19,370.24 L357.88,369.79 L359.58,369.34 L361.29,368.91 L363.00,368.48 L364.71,368.05 L366.43,367.63 L368.15,367.22 L369.88,366.81 L371.61,366.41 L373.35,366.02 L375.09,365.63 L376.84,365.24 L378.59,364.86 L380.35,364.49 L382.11,364.12 L383.88,363.75 L385.65,363.39 L387.43,363.04 L389.21,362.69 L391.00,362.35 L392.79,362.01 L394.59,361.67 L396.39,361.35 L398.20,361.02 L400.01,360.70 L401.82,360.39 L403.64,360.08 L405.47,359.77 L407.30,359.47 L409.13,359.18 L410.97,358.88 L412.82,358.60 L414.67,358.31 L416.52,358.03 L418.38,357.76 L420.24,357.49 L422.11,357.22 L423.99,356.96 L425.86,356.70 L427.75,356.45 L429.63,356.20 L431.53,355.95 L433.42,355.71 L435.32,355.47 L437.23,355.24 L439.14,355.01 L441.06,354.78 L442.98,354.55 L444.90,354.33 L446.83,354.11 L448.76,353.90 L450.70,353.68 L452.65,353.47 L454.60,353.26 L456.55,353.06 L458.51,352.86 L460.47,352.66 L462.44,352.46 L464.41,352.27 L466.38,352.08 L468.36,351.89 L470.35,351.71 L472.34,351.52 L474.33,351.34 L476.33,351.17 L478.34,350.99 L480.35,350.82 L482.36,350.65 L484.38,350.48 L486.40,350.32 L488.43,350.16 L490.46,350.00 L492.49,349.84 L494.53,349.69 L496.58,349.54 L498.63,349.39 L500.68,349.24 L502.74,349.10 L504.81,348.96 L506.87,348.82 L508.95,348.68 L511.02,348.55 L513.10,348.42 L515.19,348.29 L517.28,348.16 L519.38,348.03 L521.48,347.91 L523.58,347.79 L525.69,347.67 L527.80,347.55 L529.92,347.44 L532.04,347.32 L534.17,347.21 L536.30,347.11 L538.44,347.00 L540.58,346.89 L542.72,346.79 L544.87,346.69 L547.02,346.59 L549.18,346.50 L551.34,346.40 L553.51,346.31 L555.68,346.22 L557.86,346.13 L560.04,346.04 L562.22,345.95 L564.41,345.87 L566.61,345.79 L568.80,345.71 L571.01,345.63 L573.21,345.55 L575.42,345.48 L577.64,345.40 L579.86,345.33 L582.08,345.26 L584.31,345.19 L586.55,345.12 L588.78,345.05 L591.03,344.99 L593.27,344.92 L595.52,344.86 L597.78,344.80 L600.04,344.74 L602.30,344.68 L604.57,344.63 L606.84,344.57 L609.12,344.52 L611.40,344.46 L613.69,344.41 L615.98,344.36 L618.27,344.31 L620.57,344.26 L622.88,344.21 L625.18,344.17 L627.49,344.12 L629.81,344.08 L632.13,344.04 L634.46,344.00 L636.79,343.95 L639.12,343.91 L641.46,343.88 L643.80,343.84 L646.15,343.80 L648.50,343.77 L650.85,343.73 L653.21,343.70 L655.57,343.66 L657.94,343.63 L660.31,343.60 L662.69,343.57 L665.07,343.54 L667.46,343.51 L669.85,343.48 L672.24,343.45 L674.64,343.43 L677.04,343.40 L679.45,343.38 L681.86,343.35 L684.27,343.33 L686.69,343.30 L689.11,343.28 L691.54,343.26 L693.97,343.24 L696.41,343.22 L698.85,343.20 L701.30,343.18 L703.74,343.16 L706.20,343.14 L708.65,343.12 L711.12,343.10 L713.58,343.09 L716.05,343.07 L718.53,343.05 L721.00,343.04 L723.49,343.02 L725.97,343.01 L728.46,342.99 L730.96,342.98 L733.46,342.97 L735.96,342.95 L738.47,342.94 L740.98,342.93 L743.50,342.92 L746.02,342.91 L748.54,342.90 L751.07,342.89 L753.60,342.88 L756.14,342.87 L758.68,342.86 L761.23,342.85 L763.78,342.84 L766.33,342.83 L768.89,342.82 L771.45,342.81 L774.02,342.80 L776.59,342.80 L779.16,342.79 L781.74,342.78 L784.32,342.77 L786.91,342.77 L789.50,342.76 L792.09,342.76 L794.69,342.75 L797.30,342.74 L799.90,342.74 L802.51,342.73 L805.13,342.73 L807.75,342.72 L810.37,342.72 L813.00,342.71 L815.63,342.71 L818.27,342.70 L820.91,342.70 L823.55,342.70 L826.20,342.69 L828.85,342.69 L831.51,342.68 L834.17,342.68 L836.84,342.68 L839.51,342.67 L842.18,342.67 L844.85,342.67 L847.54,342.67 L850.22,342.66 L852.91,342.66 L855.60,342.66 L858.30,342.66 L861.00,342.65 L863.71,342.65 L866.42,342.65 L869.13,342.65 L871.85,342.64 L874.57,342.64 L877.29,342.64 L880.02,342.64 L882.76,342.64 L885.49,342.64 L888.24,342.63 L890.98,342.63 L893.73,342.63 L896.49,342.63 L899.24,342.63 L902.00,342.63 L904.77,342.63 L907.54,342.62 L910.31,342.62 L913.09,342.62 L915.87,342.62 L918.66,342.62 L921.45,342.62 L924.24,342.62 L927.04,342.62 L929.84,342.62 L932.65,342.62 L935.46,342.62 L938.27,342.61 L941.09,342.61 L943.91,342.61 L946.74,342.61 L949.57,342.61 L952.40,342.61"/>
<path stroke-dashoffset="7.0" d="M118.40,631.73 L118.42,631.67 L118.47,631.54 L118.54,631.36 L118.63,631.12 L118.73,630.84 L118.85,630.51 L118.99,630.15 L119.14,629.74 L119.30,629.30 L119.48,628.83 L119.67,628.32 L119.87,627.78 L120.09,627.21 L120.31,626.61 L120.55,625.98 L120.80,625.32 L121.06,624.63 L121.33,623.92 L121.61,623.18 L121.90,622.41 L122.21,621.62 L122.52,620.80 L122.84,619.96 L123.18,619.10 L123.52,618.21 L123.87,617.30 L124.24,616.37 L124.61,615.42 L124.99,614.45 L125.38,613.45 L125.78,612.44 L126.19,611.41 L126.61,610.36 L127.04,609.29 L127.47,608.21 L127.92,607.10 L128.37,605.98 L128.84,604.85 L129.31,603.69 L129.79,602.52 L130.28,601.34 L130.77,600.14 L131.28,598.93 L131.79,597.70 L132.31,596.46 L132.84,595.20 L133.38,593.94 L133.92,592.66 L134.48,591.37 L135.04,590.06 L135.61,588.75 L136.19,587.42 L136.77,586.08 L137.37,584.74 L137.97,583.38 L138.58,582.01 L139.19,580.64 L139.82,579.25 L140.45,577.86 L141.09,576.46 L141.73,575.05 L142.39,573.63 L143.05,572.20 L143.72,570.77 L144.39,569.33 L145.08,567.89 L145.77,566.44 L146.47,564.98 L147.17,563.52 L147.88,562.05 L148.60,560.58 L149.33,559.10 L150.06,557.62 L150.80,556.14 L151.55,554.65 L152.31,553.16 L153.07,551.66 L153.84,550.17 L154.61,548.66 L155.40,547.16 L156.19,545.66 L156.98,544.15 L157.79,542.64 L158.60,541.13 L159.41,539.62 L160.24,538.11 L161.07,536.60 L161.90,535.08 L162.75,533.57 L163.60,532.06 L164.46,530.54 L165.32,529.03 L166.19,527.52 L167.07,526.01 L167.95,524.50 L168.84,522.99 L169.74,521.49 L170.64,519.98 L171.55,518.48 L172.47,516.98 L173.39,515.48 L174.32,513.99 L175.25,512.50 L176.19,511.01 L177.14,509.52 L178.09,508.04 L179.06,506.56 L180.02,505.08 L181.00,503.61 L181.97,502.14 L182.96,500.68 L183.95,499.22 L184.95,497.76 L185.95,496.31 L186.97,494.87 L187.98,493.43 L189.00,491.99 L190.03,490.56 L191.07,489.13 L192.11,487.71 L193.16,486.30 L194.21,484.89 L195.27,483.49 L196.34,482.09 L197.41,480.70 L198.48,479.31 L199.57,477.94 L200.66,476.56 L201.75,475.20 L202.85,473.84 L203.96,472.49 L205.07,471.14 L206.19,469.80 L207.32,468.47 L208.45,467.15 L209.59,465.83 L210.73,464.52 L211.88,463.22 L213.03,461.92 L214.19,460.63 L215.36,459.35 L216.53,458.08 L217.71,456.82 L218.89,455.56 L220.08,454.31 L221.28,453.07 L222.48,451.83 L223.68,450.61 L224.90,449.39 L226.11,448.18 L227.34,446.98 L228.57,445.79 L229.80,444.60 L231.04,443.43 L232.29,442.26 L233.54,441.10 L234.80,439.95 L236.06,438.80 L237.33,437.67 L238.60,436.54 L239.88,435.42 L241.17,434.31 L242.46,433.21 L243.76,432.12 L245.06,431.04 L246.37,429.96 L247.68,428.90 L249.00,427.84 L250.32,426.79 L251.65,425.75 L252.99,424.72 L254.33,423.69 L255.68,422.68 L257.03,421.67 L258.39,420.68 L259.75,419.69 L261.12,418.71 L262.49,417.74 L263.87,416.77 L265.25,415.82 L266.64,414.87 L268.04,413.94 L269.44,413.01 L270.84,412.09 L272.25,411.18 L273.67,410.27 L275.09,409.38 L276.52,408.50 L277.95,407.62 L279.39,406.75 L280.83,405.89 L282.28,405.04 L283.73,404.20 L285.19,403.36 L286.66,402.53 L288.13,401.72 L289.60,400.91 L291.08,400.10 L292.57,399.31 L294.06,398.53 L295.55,397.75 L297.05,396.98 L298.56,396.22 L300.07,395.47 L301.59,394.72 L303.11,393.99 L304.64,393.26 L306.17,392.54 L307.71,391.82 L309.25,391.12 L310.80,390.42 L312.35,389.73 L313.91,389.05 L315.47,388.38 L317.04,387.71 L318.61,387.05 L320.19,386.40 L321.77,385.76 L323.36,385.12 L324.95,384.49 L326.55,383.87 L328.16,383.26 L329.77,382.65 L331.38,382.05 L333.00,381.46 L334.62,380.87 L336.25,380.29 L337.89,379.72 L339.52,379.15 L341.17,378.60 L342.82,378.05 L344.47,377.50 L346.13,376.96 L347.80,376.43 L349.46,375.91 L351.14,375.39 L352.82,374.88 L354.50,374.38 L356.19,373.88 L357.88,373.39 L359.58,372.90 L361.29,372.42 L363.00,371.95 L364.71,371.48 L366.43,371.02 L368.15,370.57 L369.88,370.12 L371.61,369.68 L373.35,369.24 L375.09,368.81 L376.84,368.39 L378.59,367.97 L380.35,367.55 L382.11,367.14 L383.88,366.74 L385.65,366.35 L387.43,365.95 L389.21,365.57 L391.00,365.19 L392.79,364.81 L394.59,364.44 L396.39,364.08 L398.20,363.72 L400.01,363.36 L401.82,363.01 L403.64,362.67 L405.47,362.33 L407.30,361.99 L409.13,361.66 L410.97,361.34 L412.82,361.02 L414.67,360.70 L416.52,360.39 L418.38,360.08 L420.24,359.78 L422.11,359.48 L423.99,359.19 L425.86,358.90 L427.75,358.62 L429.63,358.34 L431.53,358.06 L433.42,357.79 L435.32,357.52 L437.23,357.26 L439.14,357.00 L441.06,356.74 L442.98,356.49 L444.90,356.24 L446.83,355.99 L448.76,355.75 L450.70,355.51 L452.65,355.27 L454.60,355.03 L456.55,354.80 L458.51,354.57 L460.47,354.35 L462.44,354.13 L464.41,353.91 L466.38,353.69 L468.36,353.48 L470.35,353.27 L472.34,353.06 L474.33,352.86 L476.33,352.65 L478.34,352.46 L480.35,352.26 L482.36,352.07 L484.38,351.88 L486.40,351.69 L488.43,351.50 L490.46,351.32 L492.49,351.14 L494.53,350.97 L496.58,350.79 L498.63,350.62 L500.68,350.46 L502.74,350.29 L504.81,350.13 L506.87,349.97 L508.95,349.81 L511.02,349.65 L513.10,349.50 L515.19,349.35 L517.28,349.20 L519.38,349.06 L521.48,348.92 L523.58,348.78 L525.69,348.64 L527.80,348.50 L529.92,348.37 L532.04,348.24 L534.17,348.11 L536.30,347.98 L538.44,347.86 L540.58,347.74 L542.72,347.62 L544.87,347.50 L547.02,347.39 L549.18,347.27 L551.34,347.16 L553.51,347.06 L555.68,346.95 L557.86,346.84 L560.04,346.74 L562.22,346.64 L564.41,346.54 L566.61,346.45 L568.80,346.35 L571.01,346.26 L573.21,346.17 L575.42,346.08 L577.64,345.99 L579.86,345.90 L582.08,345.82 L584.31,345.74 L586.55,345.66 L588.78,345.58 L591.03,345.50 L593.27,345.43 L595.52,345.35 L597.78,345.28 L600.04,345.21 L602.30,345.14 L604.57,345.07 L606.84,345.01 L609.12,344.94 L611.40,344.88 L613.69,344.82 L615.98,344.75 L618.27,344.70 L620.57,344.64 L622.88,344.58 L625.18,344.53 L627.49,344.47 L629.81,344.42 L632.13,344.37 L634.46,344.32 L636.79,344.27 L639.12,344.22 L641.46,344.17 L643.80,344.13 L646.15,344.08 L648.50,344.04 L650.85,344.00 L653.21,343.96 L655.57,343.92 L657.94,343.88 L660.31,343.84 L662.69,343.80 L665.07,343.77 L667.46,343.73 L669.85,343.70 L672.24,343.66 L674.64,343.63 L677.04,343.60 L679.45,343.57 L681.86,343.54 L684.27,343.51 L686.69,343.48 L689.11,343.45 L691.54,343.43 L693.97,343.40 L696.41,343.37 L698.85,343.35 L701.30,343.32 L703.74,343.30 L706.20,343.28 L708.65,343.26 L711.12,343.23 L713.58,343.21 L716.05,343.19 L718.53,343.17 L721.00,343.15 L723.49,343.14 L725.97,343.12 L728.46,343.10 L730.96,343.08 L733.46,343.07 L735.96,343.05 L738.47,343.03 L740.98,343.02 L743.50,343.01 L746.02,342.99 L748.54,342.98 L751.07,342.96 L753.60,342.95 L756.14,342.94 L758.68,342.93 L761.23,342.91 L763.78,342.90 L766.33,342.89 L768.89,342.88 L771.45,342.87 L774.02,342.86 L776.59,342.85 L779.16,342.84 L781.74,342.83 L784.32,342.82 L786.91,342.82 L789.50,342.81 L792.09,342.80 L794.69,342.79 L797.30,342.79 L799.90,342.78 L802.51,342.77 L805.13,342.77 L807.75,342.76 L810.37,342.75 L813.00,342.75 L815.63,342.74 L818.27,342.74 L820.91,342.73 L823.55,342.72 L826.20,342.72 L828.85,342.71 L831.51,342.71 L834.17,342.71 L836.84,342.70 L839.51,342.70 L842.18,342.69 L844.85,342.69 L847.54,342.69 L850.22,342.68 L852.91,342.68 L855.60,342.68 L858.30,342.67 L861.00,342.67 L863.71,342.67 L866.42,342.66 L869.13,342.66 L871.85,342.66 L874.57,342.66 L877.29,342.65 L880.02,342.65 L882.76,342.65 L885.49,342.65 L888.24,342.64 L890.98,342.64 L893.73,342.64 L896.49,342.64 L899.24,342.64 L902.00,342.64 L904.77,342.63 L907.54,342.63 L910.31,342.63 L913.09,342.63 L915.87,342.63 L918.66,342.63 L921.45,342.63 L924.24,342.62 L927.04,342.62 L929.84,342.62 L932.65,342.62 L935.46,342.62 L938.27,342.62 L941.09,342.62 L943.91,342.62 L946.74,342.62 L949.57,342.62 L952.40,342.62"/>
<path stroke-dashoffset="23.2" d="M118.40,654.20 L118.42,654.14 L118.47,654.00 L118.54,653.80 L118.63,653.55 L118.73,653.25 L118.85,652.90 L118.99,652.51 L119.14,652.09 L119.30,651.62 L119.48,651.12 L119.67,650.58 L119.87,650.00 L120.09,649.40 L120.31,648.76 L120.55,648.09 L120.80,647.39 L121.06,646.66 L121.33,645.90 L121.61,645.11 L121.90,644.30 L122.21,643.45 L122.52,642.59 L122.84,641.69 L123.18,640.78 L123.52,639.83 L123.87,638.87 L124.24,637.88 L124.61,636.87 L124.99,635.83 L125.38,634.78 L125.78,633.70 L126.19,632.61 L126.61,631.49 L127.04,630.35 L127.47,629.20 L127.92,628.03 L128.37,626.83 L128.84,625.63 L129.31,624.40 L129.79,623.16 L130.28,621.90 L130.77,620.62 L131.28,619.33 L131.79,618.03 L132.31,616.70 L132.84,615.37 L133.38,614.02 L133.92,612.66 L134.48,611.28 L135.04,609.90 L135.61,608.50 L136.19,607.09 L136.77,605.66 L137.37,604.23 L137.97,602.78 L138.58,601.33 L139.19,599.86 L139.82,598.39 L140.45,596.90 L141.09,595.41 L141.73,593.91 L142.39,592.40 L143.05,590.88 L143.72,589.35 L144.39,587.82 L145.08,586.28 L145.77,584.74 L146.47,583.18 L147.17,581.62 L147.88,580.06 L148.60,578.49 L149.33,576.92 L150.06,575.34 L150.80,573.75 L151.55,572.17 L152.31,570.57 L153.07,568.98 L153.84,567.38 L154.61,565.78 L155.40,564.17 L156.19,562.57 L156.98,560.96 L157.79,559.35 L158.60,557.74 L159.41,556.12 L160.24,554.51 L161.07,552.89 L161.90,551.28 L162.75,549.66 L163.60,548.04 L164.46,546.43 L165.32,544.81 L166.19,543.20 L167.07,541.58 L167.95,539.97 L168.84,538.36 L169.74,536.75 L170.64,535.14 L171.55,533.53 L172.47,531.92 L173.39,530.32 L174.32,528.72 L175.25,527.13 L176.19,525.53 L177.14,523.94 L178.09,522.35 L179.06,520.77 L180.02,519.19 L181.00,517.61 L181.97,516.04 L182.96,514.47 L183.95,512.91 L184.95,511.35 L185.95,509.79 L186.97,508.24 L187.98,506.70 L189.00,505.16 L190.03,503.62 L191.07,502.10 L192.11,500.57 L193.16,499.06 L194.21,497.54 L195.27,496.04 L196.34,494.54 L197.41,493.05 L198.48,491.56 L199.57,490.08 L200.66,488.61 L201.75,487.14 L202.85,485.68 L203.96,484.23 L205.07,482.78 L206.19,481.34 L207.32,479.91 L208.45,478.49 L209.59,477.07 L210.73,475.66 L211.88,474.26 L213.03,472.87 L214.19,471.48 L215.36,470.11 L216.53,468.74 L217.71,467.37 L218.89,466.02 L220.08,464.68 L221.28,463.34 L222.48,462.01 L223.68,460.69 L224.90,459.38 L226.11,458.07 L227.34,456.78 L228.57,455.49 L229.80,454.22 L231.04,452.95 L232.29,451.69 L233.54,450.43 L234.80,449.19 L236.06,447.96 L237.33,446.73 L238.60,445.52 L239.88,444.31 L241.17,443.11 L242.46,441.92 L243.76,440.74 L245.06,439.57 L246.37,438.41 L247.68,437.26 L249.00,436.12 L250.32,434.98 L251.65,433.86 L252.99,432.74 L254.33,431.63 L255.68,430.54 L257.03,429.45 L258.39,428.37 L259.75,427.30 L261.12,426.24 L262.49,425.18 L263.87,424.14 L265.25,423.11 L266.64,422.08 L268.04,421.07 L269.44,420.06 L270.84,419.06 L272.25,418.08 L273.67,417.10 L275.09,416.13 L276.52,415.17 L277.95,414.22 L279.39,413.27 L280.83,412.34 L282.28,411.41 L283.73,410.50 L285.19,409.59 L286.66,408.69 L288.13,407.81 L289.60,406.92 L291.08,406.05 L292.57,405.19 L294.06,404.34 L295.55,403.49 L297.05,402.66 L298.56,401.83 L300.07,401.01 L301.59,400.20 L303.11,399.40 L304.64,398.60 L306.17,397.82 L307.71,397.04 L309.25,396.27 L310.80,395.51 L312.35,394.76 L313.91,394.02 L315.47,393.28 L317.04,392.55 L318.61,391.84 L320.19,391.12 L321.77,390.42 L323.36,389.73 L324.95,389.04 L326.55,388.36 L328.16,387.69 L329.77,387.03 L331.38,386.37 L333.00,385.72 L334.62,385.08 L336.25,384.45 L337.89,383.82 L339.52,383.20 L341.17,382.59 L342.82,381.99 L344.47,381.39 L346.13,380.81 L347.80,380.22 L349.46,379.65 L351.14,379.08 L352.82,378.52 L354.50,377.97 L356.19,377.42 L357.88,376.88 L359.58,376.35 L361.29,375.83 L363.00,375.31 L364.71,374.79 L366.43,374.29 L368.15,373.79 L369.88,373.30 L371.61,372.81 L373.35,372.33 L375.09,371.86 L376.84,371.39 L378.59,370.93 L380.35,370.47 L382.11,370.02 L383.88,369.58 L385.65,369.14 L387.43,368.71 L389.21,368.29 L391.00,367.87 L392.79,367.45 L394.59,367.04 L396.39,366.64 L398.20,366.25 L400.01,365.85 L401.82,365.47 L403.64,365.09 L405.47,364.71 L407.30,364.34 L409.13,363.98 L410.97,363.62 L412.82,363.26 L414.67,362.92 L416.52,362.57 L418.38,362.23 L420.24,361.90 L422.11,361.57 L423.99,361.24 L425.86,360.92 L427.75,360.61 L429.63,360.30 L431.53,359.99 L433.42,359.69 L435.32,359.39 L437.23,359.10 L439.14,358.81 L441.06,358.53 L442.98,358.25 L444.90,357.97 L446.83,357.70 L448.76,357.42 L450.70,357.16 L452.65,356.89 L454.60,356.63 L456.55,356.37 L458.51,356.12 L460.47,355.87 L462.44,355.62 L464.41,355.38 L466.38,355.14 L468.36,354.90 L470.35,354.66 L472.34,354.43 L474.33,354.20 L476.33,353.98 L478.34,353.76 L480.35,353.54 L482.36,353.32 L484.38,353.11 L486.40,352.90 L488.43,352.69 L490.46,352.49 L492.49,352.29 L494.53,352.09 L496.58,351.90 L498.63,351.71 L500.68,351.52 L502.74,351.33 L504.81,351.15 L506.87,350.97 L508.95,350.80 L511.02,350.62 L513.10,350.45 L515.19,350.28 L517.28,350.12 L519.38,349.95 L521.48,349.79 L523.58,349.64 L525.69,349.48 L527.80,349.33 L529.92,349.18 L532.04,349.03 L534.17,348.89 L536.30,348.74 L538.44,348.60 L540.58,348.47 L542.72,348.33 L544.87,348.20 L547.02,348.07 L549.18,347.94 L551.34,347.82 L553.51,347.70 L555.68,347.58 L557.86,347.46 L560.04,347.34 L562.22,347.23 L564.41,347.12 L566.61,347.01 L568.80,346.90 L571.01,346.79 L573.21,346.69 L575.42,346.59 L577.64,346.49 L579.86,346.39 L582.08,346.30 L584.31,346.20 L586.55,346.11 L588.78,346.02 L591.03,345.94 L593.27,345.85 L595.52,345.77 L597.78,345.68 L600.04,345.60 L602.30,345.52 L604.57,345.45 L606.84,345.37 L609.12,345.30 L611.40,345.23 L613.69,345.15 L615.98,345.09 L618.27,345.02 L620.57,344.95 L622.88,344.89 L625.18,344.82 L627.49,344.76 L629.81,344.70 L632.13,344.64 L634.46,344.59 L636.79,344.53 L639.12,344.48 L641.46,344.42 L643.80,344.37 L646.15,344.32 L648.50,344.27 L650.85,344.22 L653.21,344.17 L655.57,344.13 L657.94,344.08 L660.31,344.04 L662.69,344.00 L665.07,343.95 L667.46,343.91 L669.85,343.87 L672.24,343.84 L674.64,343.80 L677.04,343.76 L679.45,343.73 L681.86,343.69 L684.27,343.66 L686.69,343.62 L689.11,343.59 L691.54,343.56 L693.97,343.53 L696.41,343.50 L698.85,343.47 L701.30,343.45 L703.74,343.42 L706.20,343.39 L708.65,343.37 L711.12,343.34 L713.58,343.32 L716.05,343.29 L718.53,343.27 L721.00,343.25 L723.49,343.23 L725.97,343.21 L728.46,343.19 L730.96,343.17 L733.46,343.15 L735.96,343.13 L738.47,343.11 L740.98,343.09 L743.50,343.08 L746.02,343.06 L748.54,343.04 L751.07,343.03 L753.60,343.01 L756.14,343.00 L758.68,342.98 L761.23,342.97 L763.78,342.96 L766.33,342.94 L768.89,342.93 L771.45,342.92 L774.02,342.91 L776.59,342.90 L779.16,342.89 L781.74,342.88 L784.32,342.87 L786.91,342.86 L789.50,342.85 L792.09,342.84 L794.69,342.83 L797.30,342.82 L799.90,342.81 L802.51,342.80 L805.13,342.80 L807.75,342.79 L810.37,342.78 L813.00,342.77 L815.63,342.77 L818.27,342.76 L820.91,342.75 L823.55,342.75 L826.20,342.74 L828.85,342.74 L831.51,342.73 L834.17,342.73 L836.84,342.72 L839.51,342.72 L842.18,342.71 L844.85,342.71 L847.54,342.70 L850.22,342.70 L852.91,342.69 L855.60,342.69 L858.30,342.69 L861.00,342.68 L863.71,342.68 L866.42,342.68 L869.13,342.67 L871.85,342.67 L874.57,342.67 L877.29,342.66 L880.02,342.66 L882.76,342.66 L885.49,342.66 L888.24,342.65 L890.98,342.65 L893.73,342.65 L896.49,342.65 L899.24,342.64 L902.00,342.64 L904.77,342.64 L907.54,342.64 L910.31,342.64 L913.09,342.64 L915.87,342.63 L918.66,342.63 L921.45,342.63 L924.24,342.63 L927.04,342.63 L929.84,342.63 L932.65,342.63 L935.46,342.62 L938.27,342.62 L941.09,342.62 L943.91,342.62 L946.74,342.62 L949.57,342.62 L952.40,342.62"/>
<path stroke-dashoffset="22.0" d="M118.40,665.92 L118.42,665.86 L118.47,665.72 L118.54,665.52 L118.63,665.27 L118.73,664.97 L118.85,664.63 L118.99,664.24 L119.14,663.81 L119.30,663.34 L119.48,662.84 L119.67,662.30 L119.87,661.73 L120.09,661.12 L120.31,660.49 L120.55,659.82 L120.80,659.11 L121.06,658.38 L121.33,657.63 L121.61,656.84 L121.90,656.02 L122.21,655.18 L122.52,654.31 L122.84,653.42 L123.18,652.50 L123.52,651.56 L123.87,650.59 L124.24,649.60 L124.61,648.59 L124.99,647.56 L125.38,646.50 L125.78,645.42 L126.19,644.33 L126.61,643.21 L127.04,642.07 L127.47,640.91 L127.92,639.74 L128.37,638.54 L128.84,637.33 L129.31,636.10 L129.79,634.86 L130.28,633.59 L130.77,632.32 L131.28,631.02 L131.79,629.71 L132.31,628.39 L132.84,627.05 L133.38,625.69 L133.92,624.33 L134.48,622.94 L135.04,621.55 L135.61,620.14 L136.19,618.73 L136.77,617.30 L137.37,615.85 L137.97,614.40 L138.58,612.94 L139.19,611.46 L139.82,609.98 L140.45,608.49 L141.09,606.98 L141.73,605.47 L142.39,603.95 L143.05,602.42 L143.72,600.89 L144.39,599.34 L145.08,597.79 L145.77,596.23 L146.47,594.66 L147.17,593.09 L147.88,591.51 L148.60,589.93 L149.33,588.34 L150.06,586.75 L150.80,585.15 L151.55,583.54 L152.31,581.94 L153.07,580.32 L153.84,578.71 L154.61,577.09 L155.40,575.47 L156.19,573.84 L156.98,572.21 L157.79,570.58 L158.60,568.95 L159.41,567.31 L160.24,565.68 L161.07,564.04 L161.90,562.40 L162.75,560.76 L163.60,559.13 L164.46,557.49 L165.32,555.85 L166.19,554.21 L167.07,552.57 L167.95,550.93 L168.84,549.29 L169.74,547.65 L170.64,546.02 L171.55,544.38 L172.47,542.75 L173.39,541.12 L174.32,539.49 L175.25,537.86 L176.19,536.24 L177.14,534.62 L178.09,533.00 L179.06,531.38 L180.02,529.77 L181.00,528.16 L181.97,526.56 L182.96,524.96 L183.95,523.36 L184.95,521.77 L185.95,520.18 L186.97,518.59 L187.98,517.01 L189.00,515.44 L190.03,513.87 L191.07,512.30 L192.11,510.74 L193.16,509.19 L194.21,507.64 L195.27,506.09 L196.34,504.56 L197.41,503.02 L198.48,501.50 L199.57,499.98 L200.66,498.46 L201.75,496.96 L202.85,495.46 L203.96,493.96 L205.07,492.47 L206.19,490.99 L207.32,489.52 L208.45,488.05 L209.59,486.59 L210.73,485.14 L211.88,483.70 L213.03,482.26 L214.19,480.83 L215.36,479.41 L216.53,477.99 L217.71,476.58 L218.89,475.19 L220.08,473.79 L221.28,472.41 L222.48,471.04 L223.68,469.67 L224.90,468.31 L226.11,466.96 L227.34,465.62 L228.57,464.28 L229.80,462.96 L231.04,461.64 L232.29,460.33 L233.54,459.03 L234.80,457.74 L236.06,456.46 L237.33,455.18 L238.60,453.92 L239.88,452.66 L241.17,451.41 L242.46,450.17 L243.76,448.94 L245.06,447.72 L246.37,446.51 L247.68,445.30 L249.00,444.11 L250.32,442.92 L251.65,441.75 L252.99,440.58 L254.33,439.42 L255.68,438.27 L257.03,437.13 L258.39,436.00 L259.75,434.88 L261.12,433.77 L262.49,432.66 L263.87,431.57 L265.25,430.48 L266.64,429.41 L268.04,428.34 L269.44,427.28 L270.84,426.23 L272.25,425.19 L273.67,424.16 L275.09,423.14 L276.52,422.12 L277.95,421.12 L279.39,420.12 L280.83,419.14 L282.28,418.16 L283.73,417.19 L285.19,416.23 L286.66,415.28 L288.13,414.34 L289.60,413.41 L291.08,412.49 L292.57,411.57 L294.06,410.67 L295.55,409.77 L297.05,408.88 L298.56,408.00 L300.07,407.13 L301.59,406.27 L303.11,405.41 L304.64,404.57 L306.17,403.73 L307.71,402.90 L309.25,402.08 L310.80,401.27 L312.35,400.47 L313.91,399.68 L315.47,398.89 L317.04,398.11 L318.61,397.34 L320.19,396.58 L321.77,395.83 L323.36,395.09 L324.95,394.35 L326.55,393.62 L328.16,392.90 L329.77,392.19 L331.38,391.48 L333.00,390.78 L334.62,390.10 L336.25,389.41 L337.89,388.74 L339.52,388.07 L341.17,387.42 L342.82,386.77 L344.47,386.12 L346.13,385.49 L347.80,384.86 L349.46,384.24 L351.14,383.62 L352.82,383.02 L354.50,382.42 L356.19,381.83 L357.88,381.24 L359.58,380.66 L361.29,380.09 L363.00,379.53 L364.71,378.97 L366.43,378.42 L368.15,377.88 L369.88,377.34 L371.61,376.81 L373.35,376.29 L375.09,375.77 L376.84,375.26 L378.59,374.76 L380.35,374.26 L382.11,373.77 L383.88,373.28 L385.65,372.80 L387.43,372.33 L389.21,371.86 L391.00,371.40 L392.79,370.95 L394.59,370.50 L396.39,370.06 L398.20,369.62 L400.01,369.19 L401.82,368.77 L403.64,368.35 L405.47,367.94 L407.30,367.53 L409.13,367.12 L410.97,366.73 L412.82,366.34 L414.67,365.95 L416.52,365.57 L418.38,365.19 L420.24,364.82 L422.11,364.46 L423.99,364.10 L425.86,363.74 L427.75,363.39 L429.63,363.05 L431.53,362.71 L433.42,362.37 L435.32,362.04 L437.23,361.71 L439.14,361.39 L441.06,361.08 L442.98,360.76 L444.90,360.45 L446.83,360.14 L448.76,359.84 L450.70,359.54 L452.65,359.24 L454.60,358.95 L456.55,358.66 L458.51,358.38 L460.47,358.09 L462.44,357.81 L464.41,357.54 L466.38,357.27 L468.36,357.00 L470.35,356.73 L472.34,356.47 L474.33,356.21 L476.33,355.96 L478.34,355.71 L480.35,355.46 L482.36,355.22 L484.38,354.97 L486.40,354.74 L488.43,354.50 L490.46,354.27 L492.49,354.04 L494.53,353.82 L496.58,353.60 L498.63,353.38 L500.68,353.16 L502.74,352.95 L504.81,352.74 L506.87,352.53 L508.95,352.33 L511.02,352.13 L513.10,351.93 L515.19,351.74 L517.28,351.55 L519.38,351.36 L521.48,351.18 L523.58,351.00 L525.69,350.82 L527.80,350.64 L529.92,350.47 L532.04,350.30 L534.17,350.13 L536.30,349.97 L538.44,349.80 L540.58,349.64 L542.72,349.49 L544.87,349.33 L547.02,349.18 L549.18,349.03 L551.34,348.89 L553.51,348.74 L555.68,348.60 L557.86,348.47 L560.04,348.33 L562.22,348.20 L564.41,348.07 L566.61,347.94 L568.80,347.81 L571.01,347.69 L573.21,347.57 L575.42,347.45 L577.64,347.33 L579.86,347.21 L582.08,347.10 L584.31,346.99 L586.55,346.88 L588.78,346.78 L591.03,346.67 L593.27,346.57 L595.52,346.47 L597.78,346.37 L600.04,346.28 L602.30,346.19 L604.57,346.09 L606.84,346.00 L609.12,345.92 L611.40,345.83 L613.69,345.75 L615.98,345.66 L618.27,345.58 L620.57,345.50 L622.88,345.43 L625.18,345.35 L627.49,345.28 L629.81,345.20 L632.13,345.13 L634.46,345.06 L636.79,345.00 L639.12,344.93 L641.46,344.87 L643.80,344.80 L646.15,344.74 L648.50,344.68 L650.85,344.62 L653.21,344.56 L655.57,344.51 L657.94,344.45 L660.31,344.40 L662.69,344.35 L665.07,344.30 L667.46,344.25 L669.85,344.20 L672.24,344.15 L674.64,344.11 L677.04,344.06 L679.45,344.02 L681.86,343.98 L684.27,343.93 L686.69,343.89 L689.11,343.85 L691.54,343.82 L693.97,343.78 L696.41,343.74 L698.85,343.71 L701.30,343.67 L703.74,343.64 L706.20,343.61 L708.65,343.57 L711.12,343.54 L713.58,343.51 L716.05,343.48 L718.53,343.46 L721.00,343.43 L723.49,343.40 L725.97,343.38 L728.46,343.35 L730.96,343.33 L733.46,343.30 L735.96,343.28 L738.47,343.26 L740.98,343.23 L743.50,343.21 L746.02,343.19 L748.54,343.17 L751.07,343.15 L753.60,343.13 L756.14,343.11 L758.68,343.10 L761.23,343.08 L763.78,343.06 L766.33,343.05 L768.89,343.03 L771.45,343.02 L774.02,343.00 L776.59,342.99 L779.16,342.97 L781.74,342.96 L784.32,342.95 L786.91,342.93 L789.50,342.92 L792.09,342.91 L794.69,342.90 L797.30,342.89 L799.90,342.88 L802.51,342.87 L805.13,342.86 L807.75,342.85 L810.37,342.84 L813.00,342.83 L815.63,342.82 L818.27,342.81 L820.91,342.80 L823.55,342.80 L826.20,342.79 L828.85,342.78 L831.51,342.77 L834.17,342.77 L836.84,342.76 L839.51,342.75 L842.18,342.75 L844.85,342.74 L847.54,342.74 L850.22,342.73 L852.91,342.73 L855.60,342.72 L858.30,342.72 L861.00,342.71 L863.71,342.71 L866.42,342.70 L869.13,342.70 L871.85,342.69 L874.57,342.69 L877.29,342.69 L880.02,342.68 L882.76,342.68 L885.49,342.68 L888.24,342.67 L890.98,342.67 L893.73,342.67 L896.49,342.66 L899.24,342.66 L902.00,342.66 L904.77,342.66 L907.54,342.65 L910.31,342.65 L913.09,342.65 L915.87,342.65 L918.66,342.64 L921.45,342.64 L924.24,342.64 L927.04,342.64 L929.84,342.64 L932.65,342.64 L935.46,342.63 L938.27,342.63 L941.09,342.63 L943.91,342.63 L946.74,342.63 L949.57,342.63 L952.40,342.63"/>
</g>
</g>
<g fill="#262626" font-size="30">
<text x="117.40" y="711.5" text-anchor="middle">0</text>
<text x="256.40" y="711.5" text-anchor="middle">1</text>
<text x="395.40" y="711.5" text-anchor="middle">2</text>
<text x="534.40" y="711.5" text-anchor="middle">3</text>
<text x="673.40" y="711.5" text-anchor="middle">4</text>
<text x="812.40" y="711.5" text-anchor="middle">5</text>
<text x="951.40" y="711.5" text-anchor="middle">6</text>
<text x="107" y="679.00" text-anchor="end">-1</text>
<text x="107" y="516.20" text-anchor="end">-0.5</text>
<text x="107" y="353.40" text-anchor="end">0</text>
<text x="107" y="190.60" text-anchor="end">0.5</text>
<text x="107" y="27.80" text-anchor="end">1</text>
</g>
<text x="535.4" y="759" font-size="33" class="gi" text-anchor="middle" fill="#262626">η</text>
<text transform="translate(38,344) rotate(-90)" font-size="33" text-anchor="middle" fill="#262626">f'(<tspan class="gi">η</tspan>)</text>
<g fill="#000" font-size="30.5" letter-spacing="0.2">
<text x="491" y="56.1">n=1, S=2, M=0.1, Rd=0.1, Pr=6.2</text>
<text x="491" y="96.4">Ec=0.1, Du=0.2, Sc=0.2, <tspan class="gi">τ</tspan><tspan x="852">=0.1,</tspan></text>
<text x="491" y="144.2">E<tspan font-size="24" x="513.3" dy="13.9">1</tspan><tspan x="526.8" dy="-13.9">=0.4, </tspan><tspan class="gu" x="606">λ</tspan><tspan x="623">=0.5, </tspan><tspan class="gu" x="703.5">λ</tspan><tspan font-size="22" x="723" dy="-18">*</tspan><tspan x="733" dy="18">=0.1, </tspan><tspan class="gu" x="810">ϵ</tspan><tspan font-size="24" x="824" dy="13.9">1</tspan><tspan x="838" dy="-13.9">=0.1,</tspan></text>
<text x="491" y="196.3">K=100, Sr=0.4, <tspan class="gu">Ω</tspan>=0.3, Q=1</text>
<text x="270" y="252.8" letter-spacing="0.1"><tspan class="gu">ϵ</tspan><tspan font-size="24" x="284" dy="14.1">2</tspan><tspan x="298" dy="-14.1">=0.0, 0.02, 0.004, 0.6</tspan></text>
<text x="287" y="503.6" letter-spacing="0.05"><tspan class="gu">ϵ</tspan><tspan font-size="24" x="301" dy="13.9">2</tspan><tspan x="314.6" dy="-13.9">=0.0, 0.02, 0.04, 0.06</tspan></text>
<text x="749" y="608.6">=1 Stretching</text>
<text x="749" y="648.6">=-1 Shrinking</text>
</g>
<line x1="591.5" y1="600.4" x2="712.5" y2="600.4" stroke="#0a760f" stroke-width="4"/>
<line x1="597.1" y1="636.8" x2="712.5" y2="636.8" stroke="#0a760f" stroke-width="4" stroke-dasharray="11 13.5"/>
<g fill="none" stroke="#000" stroke-linecap="round">
<path d="M732.4,600.6 C733.2,595.6 740.6,593.4 742.2,599.6" stroke-width="1.7"/>
<path d="M742.2,599.6 C743.6,603 743.8,606 743.2,608.5 C742.6,611 742,613 741.5,615" stroke-width="2.3"/>
<path d="M747.6,595.6 L743.6,603.4" stroke-width="1.3"/>
</g>
<g transform="translate(0,40)" fill="none" stroke="#000" stroke-linecap="round">
<path d="M732.4,600.6 C733.2,595.6 740.6,593.4 742.2,599.6" stroke-width="1.7"/>
<path d="M742.2,599.6 C743.6,603 743.8,606 743.2,608.5 C742.6,611 742,613 741.5,615" stroke-width="2.3"/>
<path d="M747.6,595.6 L743.6,603.4" stroke-width="1.3"/>
</g>
<line x1="254.7" y1="268.3" x2="216.1" y2="324.9" stroke="#000" stroke-width="2.4"/><polygon points="205.4,340.6 211.4,314.0 215.5,325.7 228.0,325.2" fill="#000"/>
<line x1="269.0" y1="380.0" x2="314.8" y2="450.7" stroke="#000" stroke-width="2.4"/><polygon points="325.1,466.6 302.9,450.7 315.3,451.5 319.7,439.8" fill="#000"/>
</svg>
</body></html>
